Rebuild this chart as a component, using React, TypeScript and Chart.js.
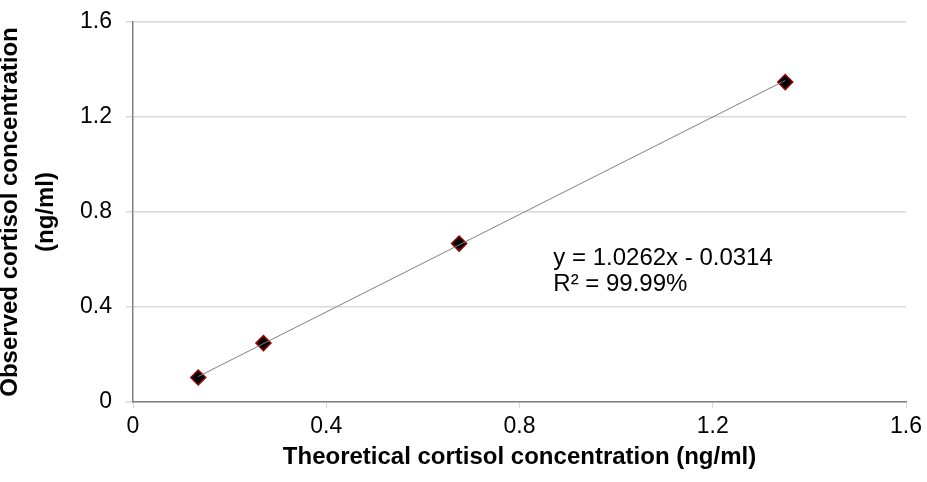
import React, { useEffect, useRef } from "react";
import { Chart, registerables } from "chart.js";

Chart.register(...registerables);

const theoretical = [0.135, 0.27, 0.675, 1.35];
const observed = [0.103, 0.248, 0.667, 1.347];
const slope = 1.0262;
const intercept = -0.0314;
const equationLines = ["y = 1.0262x - 0.0314", "R² = 99.99%"];
const axisTicks = [0, 0.4, 0.8, 1.2, 1.6];
const xTitle = "Theoretical cortisol concentration (ng/ml)";
const yTitle = ["Observed cortisol concentration", "(ng/ml)"];

const FONT = "'Liberation Sans', Arial, sans-serif";

export default function App() {
  const ref = useRef<HTMLCanvasElement | null>(null);

  useEffect(() => {
    if (!ref.current) return;
    const xs = [theoretical[0], theoretical[theoretical.length - 1]];
    const trend = xs.map((x) => ({ x, y: slope * x + intercept }));

    const eqPlugin = {
      id: "eq",
      afterDatasetsDraw(chart: any) {
        const { ctx, scales } = chart;
        const x = scales.x.getPixelForValue(0.87);
        const y1 = scales.y.getPixelForValue(0.606);
        ctx.save();
        ctx.fillStyle = "#000";
        ctx.font = `24px ${FONT}`;
        ctx.textBaseline = "middle";
        ctx.textAlign = "left";
        ctx.fillText(equationLines[0], x, y1);
        ctx.fillText(equationLines[1], x, y1 + 26);
        ctx.restore();
      },
    };

    const chart = new Chart(ref.current, {
      type: "scatter",
      data: {
        datasets: [
          {
            type: "line",
            data: trend,
            borderColor: "#7f7f7f",
            borderWidth: 1,
            pointRadius: 0,
            fill: false,
          } as any,
          {
            data: theoretical.map((x, i) => ({ x, y: observed[i] })),
            pointStyle: "rectRot",
            pointRadius: 7.5,
            backgroundColor: "#000000",
            borderColor: "#990000",
            borderWidth: 1.5,
          },
        ],
      },
      options: {
        animation: false,
        responsive: false,
        maintainAspectRatio: false,
        layout: { padding: { top: 22, right: 21, left: 0, bottom: 0 } },
        plugins: {
          legend: { display: false },
          tooltip: { enabled: false },
        },
        scales: {
          x: {
            type: "linear",
            min: 0,
            max: 1.6,
            afterBuildTicks: (s: any) => {
              s.ticks = axisTicks.map((v) => ({ value: v }));
            },
            afterFit: (s: any) => {
              s.height = 80;
              s.paddingLeft = 0;
              s.paddingRight = 0;
            },
            ticks: {
              font: { family: FONT, size: 23 },
              color: "#000",
              padding: 5,
              maxRotation: 0,
              callback: (v: any) => String(v),
            },
            grid: {
              drawOnChartArea: false,
              drawTicks: true,
              tickLength: 6,
              color: "#d9d9d9",
            },
            border: { color: "#808080", width: 1.5 },
            title: {
              display: true,
              text: xTitle,
              font: { family: FONT, size: 24, weight: "bold", lineHeight: 1.2 },
              color: "#000",
              padding: { top: 0, bottom: 10 },
            },
          },
          y: {
            type: "linear",
            min: 0,
            max: 1.6,
            afterBuildTicks: (s: any) => {
              s.ticks = axisTicks.map((v) => ({ value: v }));
            },
            afterFit: (s: any) => {
              s.width = 133;
              s.paddingTop = 0;
              s.paddingBottom = 0;
            },
            ticks: {
              font: { family: FONT, size: 23 },
              color: "#000",
              padding: 14,
              callback: (v: any) => String(v),
            },
            grid: {
              color: "#d9d9d9",
              lineWidth: 1.5,
              drawTicks: true,
              tickLength: 7,
            },
            border: { color: "#808080", width: 1.5 },
            title: {
              display: true,
              text: yTitle,
              font: { family: FONT, size: 24, weight: "bold", lineHeight: 1.5 },
              color: "#000",
              padding: { top: -8, bottom: 0 },
            },
          },
        },
      },
      plugins: [eqPlugin],
    });
    return () => chart.destroy();
  }, []);

  return (
    <div style={{ position: "fixed", left: 0, top: 0, width: 927, height: 482, background: "#fff" }}>
      <canvas ref={ref} width={927} height={482} style={{ width: 927, height: 482 }} />
    </div>
  );
}
